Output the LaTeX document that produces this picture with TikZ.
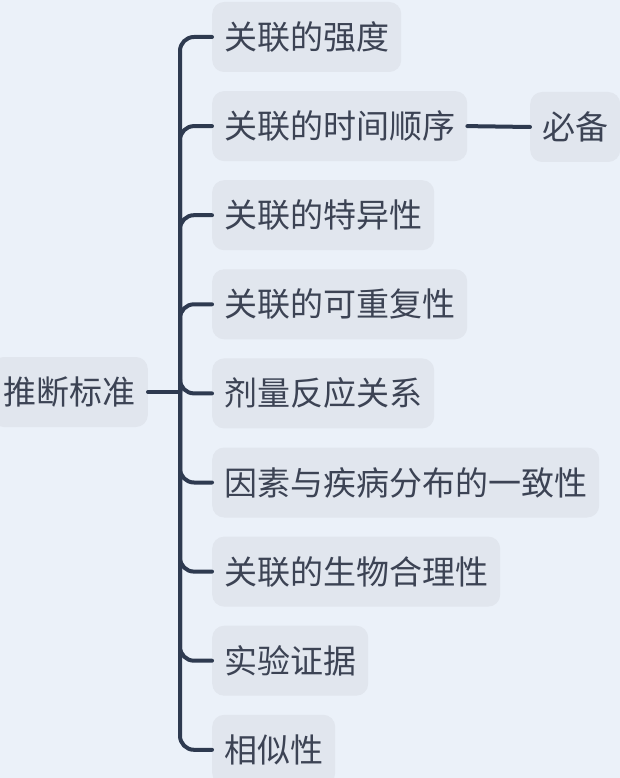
\documentclass[tikz,border=0pt]{standalone}
\usepackage{fontspec}
\newfontfamily\cjk{Noto Sans CJK SC}
\definecolor{bg}{HTML}{EBF1F9}
\definecolor{boxfill}{HTML}{E1E6EE}
\definecolor{ink}{HTML}{3C4354}
\definecolor{wirecol}{HTML}{2E3A50}
\tikzset{
  item/.style={fill=boxfill, rounded corners=12pt, text=ink, inner xsep=12pt,
    minimum height=70pt, text height=28pt, text depth=3pt,
    font=\cjk\fontsize{33}{38}\selectfont},
  wire/.style={draw=wirecol, line width=4pt}
}
\begin{document}
\begin{tikzpicture}[x=1pt, y=-1pt, line join=round, line cap=round]
  \fill[bg] (0,0) rectangle (620,778);
  \useasboundingbox (0,0) rectangle (620,778);
  \path
  (180,392) coordinate (B)
  ;
  \node[item, anchor=east] (root) at (148,392) {推断标准};
  \foreach \t [count=\i] in {关联的强度,关联的时间顺序,关联的特异性,关联的可重复性,剂量反应关系,因素与疾病分布的一致性,关联的生物合理性,实验证据,相似性}
  {
    \node[item, anchor=west] (c\i) at (212,{37+89.1*(\i-1)}) {\t};
    \draw[wire, rounded corners=14pt] (B) |- (c\i.west);
  }
  \node[item, anchor=west] (must) at (530,127) {必备};
  \draw[wire] (root.east) -- (B);
  \draw[wire] (c2.east) -- (must.west);
\end{tikzpicture}
\end{document}
